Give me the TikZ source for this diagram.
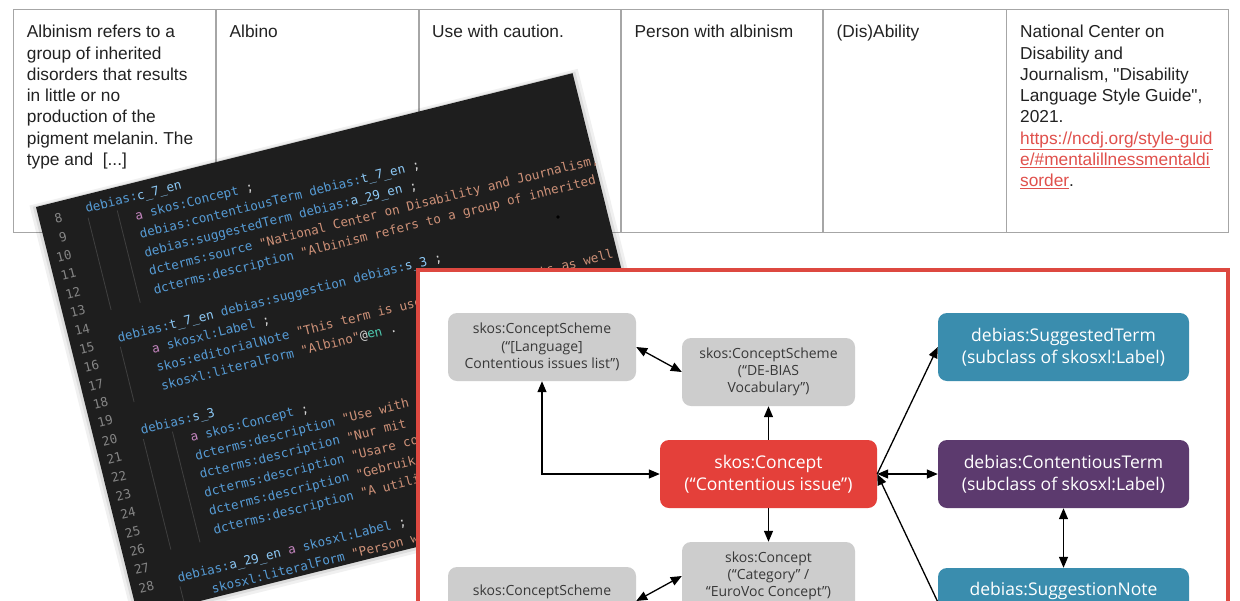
\documentclass[tikz,border=0pt]{standalone}
\usepackage{fontspec}
\setmainfont{Liberation Sans}
\setmonofont{DejaVu Sans Mono}
\newfontfamily\osans{Open Sans}
\usetikzlibrary{arrows.meta}
\definecolor{tblline}{HTML}{A6A6A6}
\definecolor{tbltext}{HTML}{222222}
\definecolor{linkred}{HTML}{E0504C}
\definecolor{codebg}{HTML}{1E1E1E}
\definecolor{ckw}{HTML}{569CD6}
\definecolor{cid}{HTML}{8CC8F5}
\definecolor{cstr}{HTML}{CE9178}
\definecolor{ca}{HTML}{C586C0}
\definecolor{cpun}{HTML}{D4D4D4}
\definecolor{clang}{HTML}{4EC9B0}
\definecolor{lnum}{HTML}{858585}
\definecolor{guide}{HTML}{404040}
\definecolor{frame}{HTML}{DD4840}
\definecolor{rednode}{HTML}{E4403A}
\definecolor{graynode}{HTML}{CDCDCD}
\definecolor{graytext}{HTML}{383838}
\definecolor{tealnode}{HTML}{3A8DAE}
\definecolor{purplenode}{HTML}{5C3A6E}
\newcommand{\cdK}[1]{\textcolor{ckw}{#1}}
\newcommand{\cdI}[1]{\textcolor{cid}{#1}}
\newcommand{\cdS}[1]{\textcolor{cstr}{#1}}
\newcommand{\cdA}[1]{\textcolor{ca}{#1}}
\newcommand{\cdP}[1]{\textcolor{cpun}{#1}}
\newcommand{\cdL}[1]{\textcolor{clang}{#1}}
\frenchspacing
\begin{document}
\begin{tikzpicture}[x=1pt,y=-1pt,
  tbl/.style={anchor=base west, inner sep=0pt, font=\fontsize{17.3}{21.3}\selectfont, text=tbltext},
  lnk/.style={tbl, text=linkred},
  code/.style={anchor=base west, inner sep=0pt, transform shape, font=\ttfamily\fontsize{12.6}{19}\selectfont},
  num/.style={anchor=base east, inner sep=0pt, transform shape, text=lnum, font=\ttfamily\fontsize{12.6}{19}\selectfont},
  gbox/.style={draw=none, fill=graynode, rounded corners=9pt, inner sep=0pt, align=center, text=graytext, font=\osans\fontsize{14}{17.3}\selectfont},
  cbox/.style={draw=none, rounded corners=9pt, inner sep=0pt, align=center, text=white, font=\osans\fontsize{17.5}{21.7}\selectfont, minimum width=251pt, minimum height=68pt},
  arr/.style={-{Triangle[length=11pt,width=9pt]}, line width=1.3pt, black},
  darr/.style={{Triangle[length=11pt,width=9pt]}-{Triangle[length=11pt,width=9pt]}, line width=1.3pt, black}]
\useasboundingbox (0,0) rectangle (1240,600);
\clip (0,0) rectangle (1240,600);
\fill[white] (0,0) rectangle (1240,600);
% ---------------- table ----------------
\draw[tblline, line width=1.2pt] (13.3,9.3) rectangle (1228.5,232.7);
\foreach \cx in {216,419,621,823,1006.5} \draw[tblline, line width=1.2pt] (\cx,9.3) -- (\cx,232.7);
\node[tbl] (c1l1) at (26.7,37.7) {Albinism refers to a};
\node[tbl] (c1l2) at (26.7,59.0) {group of inherited};
\node[tbl] (c1l3) at (26.7,80.3) {disorders that results};
\node[tbl] (c1l4) at (26.7,101.6) {in little or no};
\node[tbl] (c1l5) at (26.7,122.9) {production of the};
\node[tbl] (c1l6) at (26.7,144.2) {pigment melanin. The};
\node[tbl] (c1l7) at (26.7,165.5) {type and\ \ [...]};
\node[tbl] (c2l1) at (229.5,37.7) {Albino};
\node[tbl] (c3l1) at (432,37.7) {Use with caution.};
\node[tbl] (c4l1) at (634.5,37.7) {Person with albinism};
\node[tbl] (c5l1) at (836.5,37.7) {(Dis)Ability};
\node[tbl] (c6l1) at (1020,37.7) {National Center on};
\node[tbl] (c6l2) at (1020,59.0) {Disability and};
\node[tbl] (c6l3) at (1020,80.3) {Journalism, \textquotedbl Disability};
\node[tbl] (c6l4) at (1020,101.6) {Language Style Guide\textquotedbl,};
\node[tbl] (c6l5) at (1020,122.9) {2021.};
\node[lnk] (c6l6) at (1020,144.2) {\underline{https://ncdj.org/style-guid}};
\node[lnk] (c6l7) at (1020,165.5) {\underline{e/\#mentalillnessmentaldi}};
\node[lnk] (c6l8) at (1020,186.8) {\underline{sorder}\textcolor{tbltext}{.}};
% ---------------- code panel ----------------
\begin{scope}[shift={(36,207)}, rotate=14]
  \fill[black, opacity=0.06] (-6,-3) rectangle (559,428);
  \fill[black, opacity=0.08] (-3,-1) rectangle (556,425);
  \fill[codebg] (0,0) rectangle (553,422);
  \begin{scope}
    \clip (0,0) rectangle (553,422);
    % indent guides
    \draw[guide, line width=0.8pt] (48,23) -- (48,118) (78,23) -- (78,118);
    \draw[guide, line width=0.8pt] (48,156) -- (48,213);
    \draw[guide, line width=0.8pt] (48,251) -- (48,365) (78,251) -- (78,365);
    \draw[guide, line width=0.8pt] (48,403) -- (48,422);
    % line numbers
    \foreach \n in {8,...,28} \node[num] (ln\n) at (23,{21+18.95*(\n-8)}) {\n};
    % code lines
    \node[code] (k7)  at (47.5,18.0)  {\cdK{debias:}\cdI{c\_7\_en}};
    \node[code] (k8)  at (94,37.0)    {\cdA{a} \cdK{skos:Concept} \cdP{;}};
    \node[code] (k9)  at (94,56.1)    {\cdK{debias:contentiousTerm} \cdK{debias:}\cdI{t\_7\_en} \cdP{;}};
    \node[code] (k10) at (94,75.1)    {\cdK{debias:suggestedTerm} \cdK{debias:}\cdI{a\_29\_en} \cdP{;}};
    \node[code] (k11) at (94,94.2)    {\cdK{dcterms:source} \cdS{"National Center on Disability and Journalism,}};
    \node[code] (k12) at (94,113.2)   {\cdK{dcterms:description} \cdS{"Albinism refers to a group of inherited}};
    \node[code] (k14) at (47.5,151.3) {\cdK{debias:}\cdI{t\_7\_en} \cdK{debias:suggestion} \cdK{debias:}\cdI{s\_3} \cdP{;}};
    \node[code] (k15) at (78,170.3)   {\cdA{a} \cdK{skosxl:Label} \cdP{;}};
    \node[code] (k16) at (78,189.4)   {\cdK{skos:editorialNote} \cdS{"This term is used in medical texts as well}};
    \node[code] (k17) at (78,208.4)   {\cdK{skosxl:literalForm} \cdS{"Albino"}\cdP{@}\cdL{en} \cdP{.}};
    \node[code] (k19) at (47.5,246.5) {\cdK{debias:}\cdI{s\_3}};
    \node[code] (k20) at (94,265.5)   {\cdA{a} \cdK{skos:Concept} \cdP{;}};
    \node[code] (k21) at (94,284.6)   {\cdK{dcterms:description} \cdS{"Use with}};
    \node[code] (k22) at (94,303.6)   {\cdK{dcterms:description} \cdS{"Nur mit}};
    \node[code] (k23) at (94,322.6)   {\cdK{dcterms:description} \cdS{"Usare con}};
    \node[code] (k24) at (94,341.7)   {\cdK{dcterms:description} \cdS{"Gebruik}};
    \node[code] (k25) at (94,360.7)   {\cdK{dcterms:description} \cdS{"A utili}};
    \node[code] (k27) at (47.5,398.8) {\cdK{debias:}\cdI{a\_29\_en} \cdA{a} \cdK{skosxl:Label} \cdP{;}};
    \node[code] (k28) at (78,417.8)   {\cdK{skosxl:literalForm} \cdS{"Person with}};
  \end{scope}
\end{scope}
\fill[black] (558,217) circle (1.8);
% ---------------- diagram frame ----------------
\draw[frame, line width=4pt, fill=white] (418,270) rectangle (1227.5,720);
% nodes
\node[gbox, minimum width=188pt, minimum height=68pt] (cs1) at (542,347) {skos:ConceptScheme\\(“[Language]\\Contentious issues list”)};
\node[gbox, minimum width=173pt, minimum height=68pt] (cs2) at (768.5,372) {skos:ConceptScheme\\(“DE-BIAS\\Vocabulary”)};
\node[cbox, fill=rednode, minimum width=217pt] (ci) at (768.5,474) {skos:Concept\\(“Contentious issue”)};
\node[gbox, minimum width=173pt, minimum height=68pt] (cat) at (768.5,576) {skos:Concept\\(“Category” /\\“EuroVoc Concept”)};
\node[gbox, minimum width=188pt, minimum height=68pt] (cs3) at (542,601) {skos:ConceptScheme\\\phantom{(xy)}};
\node[cbox, fill=tealnode] (st) at (1063.5,347) {debias:SuggestedTerm\\(subclass of skosxl:Label)};
\node[cbox, fill=purplenode] (ct) at (1063.5,474) {debias:ContentiousTerm\\(subclass of skosxl:Label)};
\node[cbox, fill=tealnode] (sn) at (1063.5,602) {debias:SuggestionNote\\\phantom{(xy)}};
% connectors
\draw[darr] (cs1.east) -- (cs2.west);
\draw[arr] (ci.north) -- (cs2.south);
\draw[darr] (cs1.south) |- (ci.west);
\draw[arr] (ci.south) -- (cat.north);
\draw[darr] (cs3.east) -- (cat.west);
\draw[arr] (ci.east) -- (st.west);
\draw[darr] (ci.east) -- (ct.west);
\draw[arr] (sn.west) -- (ci.east);
\draw[darr] (ct.south) -- (sn.north);
\end{tikzpicture}
\end{document}
